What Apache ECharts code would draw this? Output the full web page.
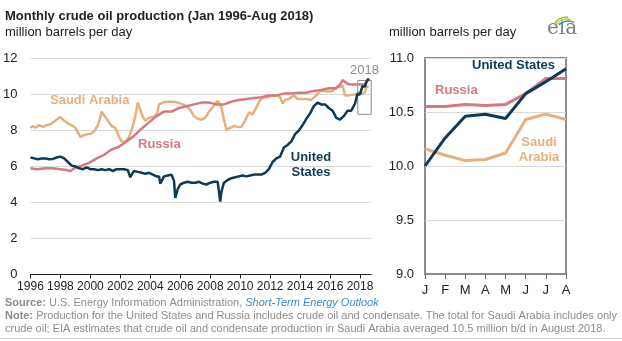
<!DOCTYPE html>
<html>
<head>
<meta charset="utf-8">
<script src="https://cdn.jsdelivr.net/npm/echarts@6/dist/echarts.min.js"></script>
<style>
  html, body { margin: 0; padding: 0; background: #fff; }
  #chart { width: 622px; height: 341px; }
</style>
</head>
<body>
<div id="chart"></div>
<script>
// Monthly crude oil production, million barrels per day (sampled months)
var usMonths = ['1996-01','1996-04','1996-07','1996-10','1997-01','1997-04','1997-07','1997-10','1998-01','1998-04','1998-07','1998-10','1999-01','1999-04','1999-07','1999-10','2000-01','2000-04','2000-07','2000-10','2001-01','2001-04','2001-07','2001-10','2002-01','2002-04','2002-07','2002-09','2002-10','2002-12','2003-03','2003-06','2003-09','2003-12','2004-03','2004-06','2004-08','2004-09','2004-10','2004-12','2005-03','2005-06','2005-08','2005-09','2005-10','2005-11','2006-01','2006-04','2006-07','2006-10','2007-01','2007-04','2007-07','2007-10','2008-01','2008-04','2008-07','2008-08','2008-09','2008-10','2008-12','2009-03','2009-06','2009-09','2009-12','2010-03','2010-06','2010-09','2010-12','2011-03','2011-06','2011-09','2011-12','2012-03','2012-06','2012-09','2012-12','2013-03','2013-06','2013-09','2013-12','2014-03','2014-06','2014-09','2014-12','2015-03','2015-04','2015-06','2015-09','2015-12','2016-03','2016-06','2016-09','2016-12','2017-03','2017-06','2017-09','2017-11','2017-12','2018-01','2018-02','2018-03','2018-04','2018-05','2018-06','2018-07','2018-08'];
var usValues = [6.50,6.45,6.40,6.45,6.45,6.40,6.42,6.50,6.55,6.45,6.25,6.05,6.00,5.90,5.85,5.95,5.85,5.85,5.80,5.85,5.80,5.85,5.75,5.85,5.85,5.85,5.80,5.40,5.55,5.75,5.70,5.65,5.60,5.65,5.55,5.45,5.45,5.05,5.15,5.45,5.50,5.55,5.20,4.25,4.30,4.75,5.00,5.10,5.15,5.10,5.10,5.15,5.05,5.00,5.10,5.15,5.15,5.05,4.05,4.60,5.10,5.25,5.35,5.40,5.45,5.50,5.45,5.50,5.55,5.55,5.55,5.65,5.85,6.25,6.45,6.55,7.05,7.20,7.40,7.80,8.00,8.30,8.65,8.95,9.35,9.55,9.65,9.45,9.45,9.25,9.10,8.70,8.60,8.80,9.10,9.10,9.50,10.05,9.95,10.00,10.26,10.46,10.48,10.44,10.67,10.78,10.90];

var ruMonths = ['1996-01','1996-06','1997-01','1997-06','1998-01','1998-06','1998-09','1999-01','1999-06','1999-12','2000-06','2000-12','2001-06','2001-12','2002-06','2002-12','2003-06','2003-12','2004-06','2004-12','2005-06','2005-12','2006-06','2006-12','2007-06','2007-12','2008-06','2008-12','2009-06','2009-12','2010-06','2010-12','2011-06','2011-12','2012-06','2012-12','2013-06','2013-12','2014-06','2014-12','2015-06','2015-12','2016-06','2016-09','2016-11','2016-12','2017-03','2017-06','2017-09','2017-12','2018-01','2018-02','2018-03','2018-04','2018-05','2018-06','2018-07','2018-08'];
var ruValues = [5.90,5.85,5.90,5.90,5.85,5.80,5.75,5.95,6.05,6.20,6.45,6.65,6.95,7.10,7.40,7.70,8.10,8.45,8.80,9.05,9.05,9.25,9.35,9.45,9.55,9.55,9.45,9.45,9.60,9.70,9.75,9.80,9.85,9.95,9.95,10.05,10.05,10.10,10.10,10.20,10.25,10.35,10.35,10.55,10.80,10.85,10.60,10.55,10.55,10.55,10.55,10.55,10.57,10.56,10.57,10.67,10.81,10.81];

var saMonths = ['1996-01','1996-03','1996-05','1996-08','1996-11','1997-02','1997-05','1997-08','1997-11','1998-01','1998-03','1998-05','1998-08','1998-11','1999-01','1999-03','1999-05','1999-08','1999-11','2000-01','2000-04','2000-07','2000-09','2000-10','2000-12','2001-03','2001-06','2001-09','2001-12','2002-02','2002-05','2002-08','2002-11','2003-01','2003-03','2003-05','2003-07','2003-09','2003-12','2004-03','2004-06','2004-08','2004-11','2005-03','2005-08','2005-11','2006-03','2006-06','2006-09','2006-12','2007-03','2007-06','2007-09','2007-12','2008-03','2008-07','2008-10','2008-12','2009-02','2009-05','2009-08','2009-11','2010-02','2010-05','2010-08','2010-11','2011-02','2011-05','2011-08','2011-11','2012-03','2012-06','2012-09','2012-11','2013-01','2013-04','2013-08','2013-11','2014-02','2014-06','2014-10','2015-02','2015-05','2015-08','2015-11','2016-03','2016-07','2016-09','2016-11','2017-01','2017-04','2017-07','2017-10','2017-12','2018-01','2018-02','2018-03','2018-04','2018-05','2018-06','2018-07','2018-08'];
var saValues = [8.15,8.25,8.15,8.30,8.20,8.30,8.35,8.50,8.65,8.75,8.60,8.50,8.35,8.25,8.15,7.90,7.65,7.75,7.80,7.80,7.95,8.30,8.75,9.05,8.85,8.55,8.25,8.15,7.65,7.40,7.35,7.65,8.25,8.80,9.55,9.15,8.75,8.55,8.70,8.75,8.85,9.45,9.55,9.60,9.60,9.55,9.45,9.35,9.15,8.80,8.65,8.60,8.70,9.05,9.30,9.65,9.30,8.60,8.05,8.15,8.25,8.20,8.20,8.55,9.00,8.90,9.30,9.70,9.85,9.85,9.95,9.95,9.85,9.50,9.70,9.75,9.95,9.75,9.75,9.75,9.70,9.95,10.20,10.20,10.15,10.20,10.45,10.40,10.50,9.95,9.95,10.00,10.00,10.00,10.16,10.10,10.05,10.06,10.12,10.43,10.48,10.43];

// 2018 detail panel
var monthLabels = ['J','F','M','A','M','J','J','A'];
var us2018 = [10.00,10.26,10.46,10.48,10.44,10.67,10.78,10.90];
var ru2018 = [10.55,10.55,10.57,10.56,10.57,10.67,10.81,10.81];
var sa2018 = [10.16,10.10,10.05,10.06,10.12,10.43,10.48,10.43];

var yearTicks = [1996,1998,2000,2002,2004,2006,2008,2010,2012,2014,2016,2018];

var COLOR_US = '#0d3a56';
var COLOR_RU = '#d8777f';
var COLOR_SA = '#e6b07c';
var FONT = 'Liberation Sans, Arial, sans-serif';

function toPairs(months, values) {
  return months.map(function (m, i) {
    var p = m.split('-');
    return [Number(p[0]) + (Number(p[1]) - 1) / 12, values[i]];
  });
}

var chart = echarts.init(document.getElementById('chart'), null, { renderer: 'canvas' });

var lineBase = { type: 'line', showSymbol: false, symbol: 'none', silent: true, animation: false };
var footRich = {
  b: { fontWeight: 'bold', fontSize: 11, color: '#8c8c8c', fontFamily: FONT, lineHeight: 13 },
  i: { fontStyle: 'italic', fontSize: 11, color: '#3b8bc6', fontFamily: FONT, lineHeight: 13 }
};

chart.setOption({
  backgroundColor: '#fff',
  animation: false,
  textStyle: { fontFamily: FONT },
  title: [
    { text: 'Monthly crude oil production (Jan 1996-Aug 2018)', left: 5, top: 10, padding: 0,
      textStyle: { fontFamily: FONT, fontSize: 13, fontWeight: 'bold', color: '#222' } },
    { text: 'million barrels per day', left: 5, top: 26, padding: 0,
      textStyle: { fontFamily: FONT, fontSize: 13, fontWeight: 'normal', color: '#222' } },
    { text: 'million barrels per day', left: 389, top: 26, padding: 0,
      textStyle: { fontFamily: FONT, fontSize: 13, fontWeight: 'normal', color: '#222' } },
    { text: '{b|Source:} U.S. Energy Information Administration, {i|Short-Term Energy Outlook}',
      left: 5, top: 296, padding: 0,
      textStyle: { fontFamily: FONT, fontSize: 11, fontWeight: 'normal', color: '#8c8c8c', lineHeight: 13, rich: footRich } },
    { text: '{b|Note:} Production for the United States and Russia includes crude oil and condensate. The total for Saudi Arabia includes only\ncrude oil; EIA estimates that crude oil and condensate production in Saudi Arabia averaged 10.5 million b/d in August 2018.',
      left: 5, top: 309, padding: 0,
      textStyle: { fontFamily: FONT, fontSize: 11, fontWeight: 'normal', color: '#8c8c8c', lineHeight: 13, rich: footRich } }
  ],
  grid: [
    { left: 30, top: 58.5, width: 341.25, height: 216, containLabel: false },
    { left: 425, top: 58, width: 141, height: 216, show: true, borderColor: '#8c8c8c', borderWidth: 2 }
  ],
  xAxis: [
    { type: 'value', gridIndex: 0, min: 1996, max: 2018.75, interval: 2,
      splitLine: { show: false },
      axisLine: { show: true, lineStyle: { color: '#222', width: 1 } },
      axisTick: { show: true, length: 4, customValues: yearTicks, lineStyle: { color: '#222' } },
      axisLabel: { customValues: yearTicks, margin: 6, fontSize: 12, color: '#222', fontFamily: FONT,
                   formatter: function (v) { return String(v); } } },
    { type: 'category', gridIndex: 1, data: monthLabels, boundaryGap: false,
      axisLine: { show: true, lineStyle: { color: '#8c8c8c', width: 2 } },
      axisTick: { show: true, length: 5, lineStyle: { color: '#666', width: 1 } },
      axisLabel: { margin: 10, fontSize: 13, color: '#222', fontFamily: FONT, interval: 0 },
      splitLine: { show: false } }
  ],
  yAxis: [
    { type: 'value', gridIndex: 0, min: 0, max: 12, interval: 2,
      axisLine: { show: false }, axisTick: { show: false },
      axisLabel: { margin: 13, fontSize: 13, color: '#222', fontFamily: FONT },
      splitLine: { show: true, lineStyle: { color: '#d9d9d9', width: 1 } } },
    { type: 'value', gridIndex: 1, min: 9, max: 11, interval: 0.5,
      axisLine: { show: false }, axisTick: { show: false },
      axisLabel: { margin: 11, fontSize: 13, color: '#222', fontFamily: FONT,
                   formatter: function (v) { return v.toFixed(1); } },
      splitLine: { show: true, lineStyle: { color: '#d9d9d9', width: 1 } } }
  ],
  series: [
    Object.assign({}, lineBase, { name: 'Saudi Arabia', xAxisIndex: 0, yAxisIndex: 0,
      data: toPairs(saMonths, saValues), lineStyle: { color: COLOR_SA, width: 2.5 } }),
    Object.assign({}, lineBase, { name: 'Russia', xAxisIndex: 0, yAxisIndex: 0,
      data: toPairs(ruMonths, ruValues), lineStyle: { color: COLOR_RU, width: 2.5 } }),
    Object.assign({}, lineBase, { name: 'United States', xAxisIndex: 0, yAxisIndex: 0,
      data: toPairs(usMonths, usValues), lineStyle: { color: COLOR_US, width: 2.5 },
      markArea: {
        silent: true,
        itemStyle: { color: 'rgba(0,0,0,0)', borderColor: '#8c8c8c', borderWidth: 1 },
        label: { show: true, position: 'top', distance: 3, color: '#8c8c8c', fontSize: 13, fontFamily: FONT },
        data: [[{ name: '2018', coord: [2017.85, 8.9] }, { coord: [2018.88, 10.78] }]]
      } }),
    Object.assign({}, lineBase, { name: 'Saudi Arabia 2018', xAxisIndex: 1, yAxisIndex: 1,
      data: sa2018, lineStyle: { color: COLOR_SA, width: 3 } }),
    Object.assign({}, lineBase, { name: 'Russia 2018', xAxisIndex: 1, yAxisIndex: 1,
      data: ru2018, lineStyle: { color: COLOR_RU, width: 3 } }),
    Object.assign({}, lineBase, { name: 'United States 2018', xAxisIndex: 1, yAxisIndex: 1,
      data: us2018, lineStyle: { color: COLOR_US, width: 3 } })
  ],
  graphic: [
    // series names next to the lines
    { type: 'text', left: 50, top: 94, style: { text: 'Saudi Arabia', fill: COLOR_SA, font: 'bold 13px ' + FONT } },
    { type: 'text', left: 138, top: 138, style: { text: 'Russia', fill: COLOR_RU, font: 'bold 13px ' + FONT } },
    { type: 'text', x: 311, y: 150, style: { text: 'United\nStates', fill: COLOR_US, font: 'bold 13px ' + FONT,
      align: 'center', lineHeight: 15 } },
    { type: 'text', left: 472, top: 59, style: { text: 'United States', fill: COLOR_US, font: 'bold 13px ' + FONT } },
    { type: 'text', left: 435, top: 84, style: { text: 'Russia', fill: COLOR_RU, font: 'bold 13px ' + FONT } },
    { type: 'text', x: 539, y: 135, style: { text: 'Saudi\nArabia', fill: COLOR_SA, font: 'bold 13px ' + FONT,
      align: 'center', lineHeight: 15 } },
    // eia logo
    { type: 'text', left: 547, top: 19, style: { text: 'eia', fill: '#7d8387', font: '20px DejaVu Serif, serif' } },
    { type: 'arc', shape: { cx: 566, cy: 30, r: 13, startAngle: Math.PI * 1.15, endAngle: Math.PI * 1.55 },
      style: { stroke: '#8cc63f', lineWidth: 1.5, fill: null } },
    { type: 'arc', shape: { cx: 567, cy: 32, r: 13, startAngle: Math.PI * 1.2, endAngle: Math.PI * 1.6 },
      style: { stroke: '#f2c500', lineWidth: 1.5, fill: null } },
    { type: 'arc', shape: { cx: 568, cy: 34, r: 13, startAngle: Math.PI * 1.25, endAngle: Math.PI * 1.65 },
      style: { stroke: '#1b9ad6', lineWidth: 1.5, fill: null } },
    // footer rule
    { type: 'line', shape: { x1: 0, y1: 338.5, x2: 622, y2: 338.5 }, style: { stroke: '#cfcfcf', lineWidth: 1 } }
  ]
});
</script>
</body>
</html>
